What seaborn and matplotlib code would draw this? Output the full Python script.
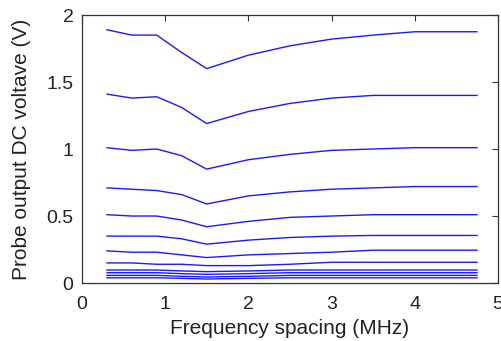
import numpy as np
import pandas as pd
import matplotlib
matplotlib.use("Agg")
import matplotlib.pyplot as plt
import seaborn as sns

freq = [0.3, 0.6, 0.9, 1.2, 1.5, 2.0, 2.5, 3.0, 3.5, 4.0, 4.75]
v1 = [1.89, 1.85, 1.85, 1.72, 1.60, 1.70, 1.77, 1.82, 1.85, 1.875, 1.875]
v2 = [1.41, 1.38, 1.39, 1.31, 1.19, 1.28, 1.34, 1.38, 1.40, 1.40, 1.40]
v3 = [1.01, 0.99, 1.00, 0.95, 0.85, 0.92, 0.96, 0.99, 1.00, 1.01, 1.01]
v4 = [0.71, 0.70, 0.69, 0.66, 0.59, 0.65, 0.68, 0.70, 0.71, 0.72, 0.72]
v5 = [0.51, 0.50, 0.50, 0.47, 0.42, 0.46, 0.49, 0.50, 0.51, 0.51, 0.51]
v6 = [0.35, 0.35, 0.35, 0.33, 0.29, 0.32, 0.34, 0.35, 0.355, 0.355, 0.355]
v7 = [0.24, 0.23, 0.23, 0.21, 0.19, 0.21, 0.22, 0.23, 0.245, 0.245, 0.245]
v8 = [0.15, 0.15, 0.14, 0.14, 0.13, 0.13, 0.14, 0.155, 0.155, 0.155, 0.155]
v9 = [0.097, 0.097, 0.097, 0.09, 0.085, 0.09, 0.097, 0.097, 0.097, 0.097, 0.097]
v10 = [0.077, 0.077, 0.077, 0.07, 0.065, 0.07, 0.077, 0.077, 0.077, 0.077, 0.077]
v11 = [0.057, 0.057, 0.057, 0.05, 0.045, 0.05, 0.057, 0.057, 0.057, 0.057, 0.057]
v12 = [0.039, 0.039, 0.039, 0.035, 0.03, 0.035, 0.039, 0.039, 0.039, 0.039, 0.039]
series = [v1, v2, v3, v4, v5, v6, v7, v8, v9, v10, v11, v12]

xticks = [0, 1, 2, 3, 4, 5]
xtick_labels = ["0", "1", "2", "3", "4", "5"]
yticks = [0, 0.5, 1, 1.5, 2]
ytick_labels = ["0", "0.5", "1", "1.5", "2"]

rows = []
for i, s in enumerate(series):
    for f, v in zip(freq, s):
        rows.append({"freq": f, "volt": v, "curve": i})
df = pd.DataFrame(rows)

sns.set_style("white")
plt.rcParams['font.family'] = ['Liberation Sans', 'DejaVu Sans']

fig = plt.figure(figsize=(5.02, 3.41), dpi=100)
ax = fig.add_axes([0.163, 0.170, 0.829, 0.786])
sns.lineplot(data=df, x="freq", y="volt", units="curve", estimator=None,
             color="#1a1aff", linewidth=1.0, ax=ax, legend=False)

ax.set_xlim(0, 5)
ax.set_ylim(0, 2)
ax.set_xticks(xticks)
ax.set_xticklabels(xtick_labels)
ax.set_yticks(yticks)
ax.set_yticklabels(ytick_labels)
ax.tick_params(direction="in", top=True, right=True, length=4, width=0.8,
               labelsize=14, color="#333333", labelcolor="#222222", pad=6)
ax.tick_params(axis="x", pad=9)
for sp in ax.spines.values():
    sp.set_color("#333333")
    sp.set_linewidth(0.9)
ax.set_xlabel("Frequency spacing (MHz)", fontsize=15, labelpad=5, color="#222222")
ax.set_ylabel("Probe output DC voltave (V)", fontsize=15, labelpad=11, color="#222222")

fig.savefig("out.png", dpi=100)
